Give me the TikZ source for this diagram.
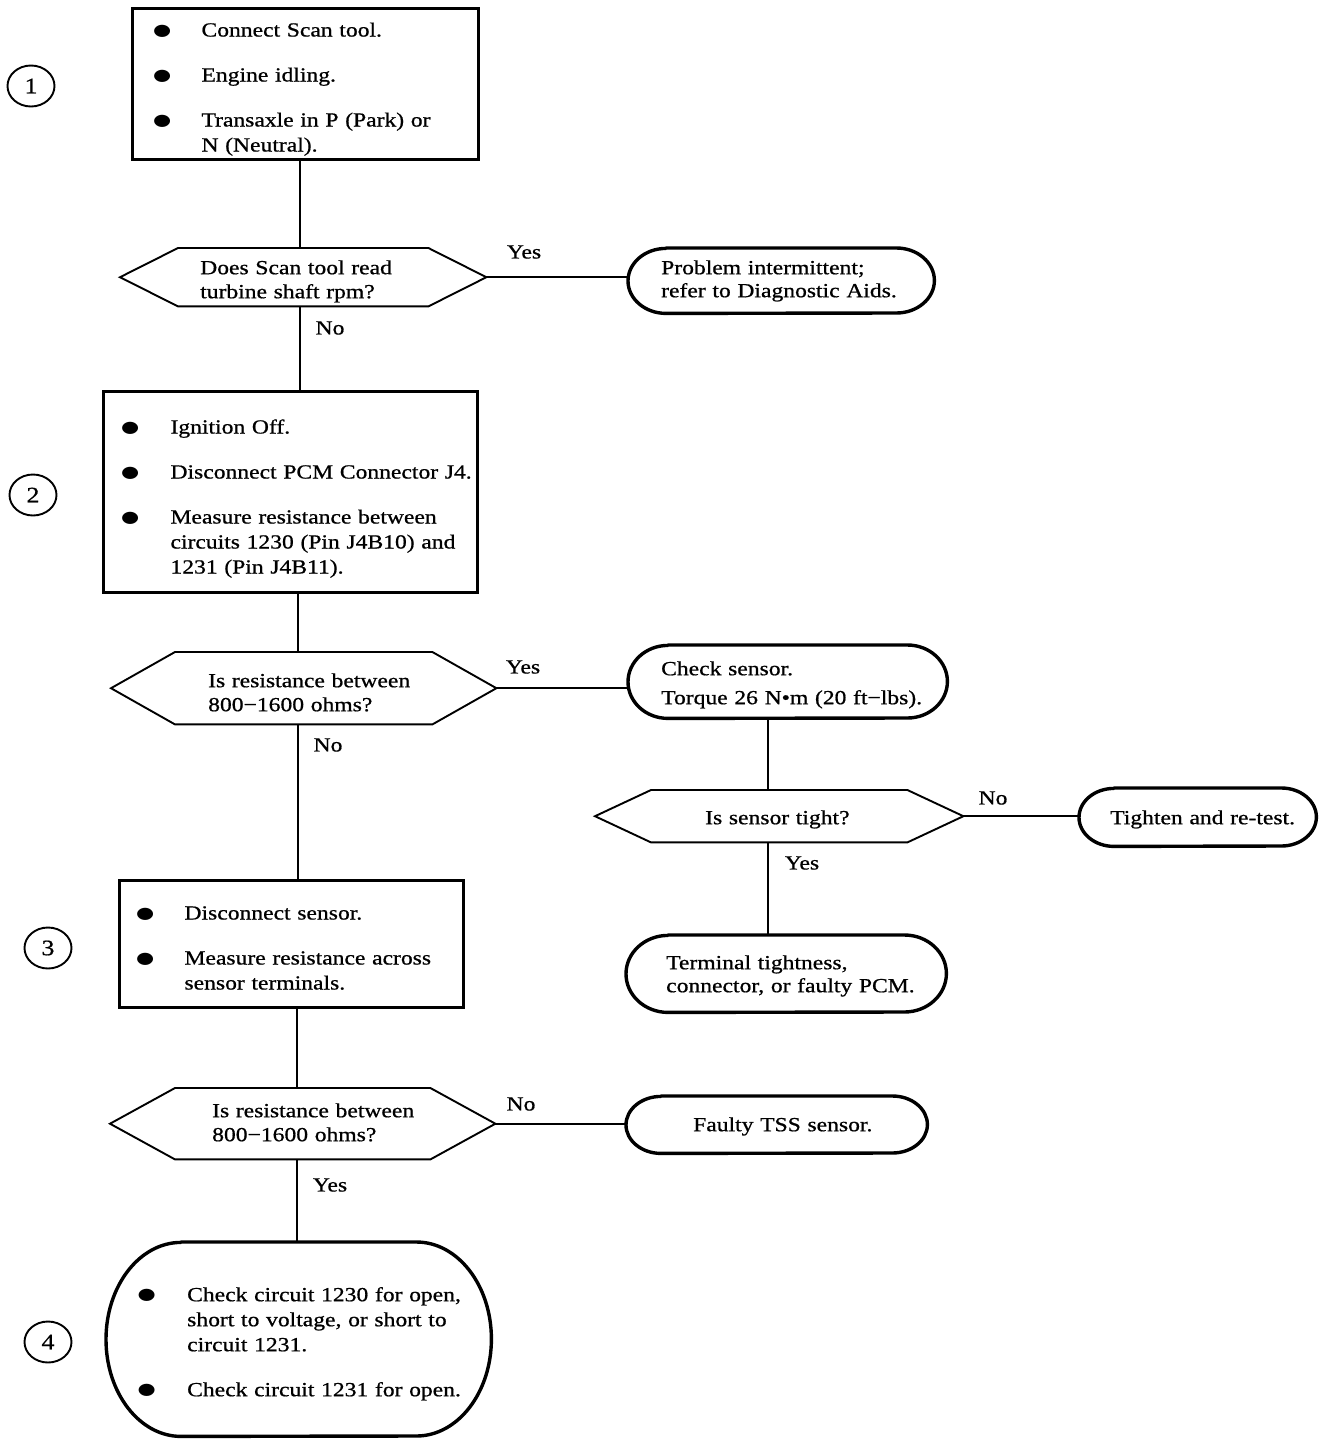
\documentclass[tikz,border=0pt]{standalone}
\usepackage{fontspec}
\setmainfont[FakeStretch=1.18,FakeBold=0.8]{Liberation Serif}
\newfontfamily\symfnt[FakeStretch=1.3]{DejaVu Sans}
\usetikzlibrary{shapes.geometric}
\newcommand{\bul}{\raisebox{1.5pt}{\symfnt\fontsize{16}{25}\selectfont ●}}
\newcommand{\stadium}[3]{\draw[ovalline] ([xshift=#2pt]#1.north west) -- ([xshift=-#2pt]#1.north east) arc[start angle=90,end angle=-90,x radius=#2pt,y radius=#3pt] -- ([xshift=#2pt]#1.south west) arc[start angle=270,end angle=90,x radius=#2pt,y radius=#3pt] -- cycle;}
\newcommand{\hexa}[2]{\draw[hexline] (#1.west) -- ([xshift=#2pt]#1.north west) -- ([xshift=-#2pt]#1.north east) -- (#1.east) -- ([xshift=-#2pt]#1.south east) -- ([xshift=#2pt]#1.south west) -- cycle;}
\tikzset{
  every node/.style={inner sep=0pt},
  tbox/.style={anchor=north west, align=left, inner ysep=0pt},
  boxline/.style={draw, line width=3pt},
  ovalline/.style={line width=3.4pt, line join=round},
  hexline/.style={line width=1.9pt, line join=miter},
  conn/.style={line width=1.9pt},
  num/.style={ellipse, draw, line width=1.9pt, minimum width=47pt, minimum height=41pt, inner sep=0pt, font=\fontsize{22}{25}\selectfont},
}
\begin{document}
\begin{tikzpicture}[x=1pt,y=-1pt,font=\fontsize{20}{25}\selectfont]
\useasboundingbox (0,0) rectangle (1328,1444);

% step numbers
\node[num] (c1) at (31,86) {1};
\node[num] (c2) at (33,495) {2};
\node[num] (c3) at (48,948) {3};
\node[num] (c4) at (48,1342) {4};

% box 1
\node[tbox, boxline, inner xsep=20.5pt, text width=305pt, text height=28pt, text depth=123pt] (b1) at (131,7)
 {\begin{tabular}[t]{@{}p{48.5pt}@{}l@{}}
 \bul & Connect Scan tool.\\[20pt]
 \bul & Engine idling.\\[20pt]
 \bul & Transaxle in P (Park) or\\
      & N (Neutral).
 \end{tabular}};

% question 1
\node[tbox, font=\fontsize{20}{24}\selectfont, inner xsep=80pt, text width=206pt, text height=26pt, text depth=32pt] (h1) at (120,248)
 {\begin{tabular}[t]{@{}l@{}}Does Scan tool read\\ turbine shaft rpm?\end{tabular}};
\hexa{h1}{58}

\node[tbox, font=\fontsize{20}{23}\selectfont, inner xsep=33pt, text width=240pt, text height=26pt, text depth=39pt] (o1) at (628,248)
 {\begin{tabular}[t]{@{}l@{}}Problem intermittent;\\ refer to Diagnostic Aids.\end{tabular}};
\stadium{o1}{38}{32.5}

% box 2
\node[tbox, boxline, inner xsep=17.5pt, text width=339pt, text height=42pt, text depth=159pt] (b2) at (102,390)
 {\begin{tabular}[t]{@{}p{49.5pt}@{}l@{}}
 \bul & Ignition Off.\\[20pt]
 \bul & Disconnect PCM Connector J4.\\[20pt]
 \bul & Measure resistance between\\
      & circuits 1230 (Pin J4B10) and\\
      & 1231 (Pin J4B11).
 \end{tabular}};

% question 2
\node[tbox, font=\fontsize{20}{24}\selectfont, inner xsep=97pt, text width=191pt, text height=35pt, text depth=37pt] (h2) at (111,652)
 {\begin{tabular}[t]{@{}l@{}}Is resistance between\\ 800−1600 ohms?\end{tabular}};
\hexa{h2}{64}

\node[tbox, inner xsep=33pt, text width=253pt, text height=30pt, text depth=43pt] (o2) at (628,645)
 {\begin{tabular}[t]{@{}l@{}}Check sensor.\\[4pt] Torque 26 N•m (20 ft−lbs).\end{tabular}};
\stadium{o2}{40}{36.5}

% question 3
\node[tbox, inner xsep=110pt, text width=148pt, text height=34pt, text depth=18pt] (h3) at (595,790)
 {\mbox{Is sensor tight?}};
\hexa{h3}{56}

\node[tbox, inner xsep=31pt, text width=175pt, text height=36pt, text depth=22pt] (o3) at (1079,788)
 {\mbox{Tighten and re-test.}};
\stadium{o3}{35}{29}

\node[tbox, font=\fontsize{20}{23}\selectfont, inner xsep=40pt, text width=240pt, text height=34pt, text depth=43pt] (o4) at (626,935)
 {\begin{tabular}[t]{@{}l@{}}Terminal tightness,\\ connector, or faulty PCM.\end{tabular}};
\stadium{o4}{42}{38.5}

% box 3
\node[tbox, boxline, inner xsep=16.5pt, text width=311pt, text height=39pt, text depth=88pt] (b3) at (118,879)
 {\begin{tabular}[t]{@{}p{48.5pt}@{}l@{}}
 \bul & Disconnect sensor.\\[20pt]
 \bul & Measure resistance across\\
      & sensor terminals.
 \end{tabular}};

% question 4
\node[tbox, font=\fontsize{20}{24}\selectfont, inner xsep=102pt, text width=181pt, text height=29pt, text depth=42pt] (h4) at (110,1088)
 {\begin{tabular}[t]{@{}l@{}}Is resistance between\\ 800−1600 ohms?\end{tabular}};
\hexa{h4}{65}

\node[tbox, inner xsep=67pt, text width=167pt, text height=35pt, text depth=22pt] (o5) at (626,1096)
 {\mbox{Faulty TSS sensor.}};
\stadium{o5}{35}{28.5}

% final
\node[tbox, inner xsep=31.5pt, text width=322pt, text height=59pt, text depth=135pt] (o6) at (106,1242)
 {\begin{tabular}[t]{@{}p{49.5pt}@{}l@{}}
 \bul & Check circuit 1230 for open,\\
      & short to voltage, or short to\\
      & circuit 1231.\\[20pt]
 \bul & Check circuit 1231 for open.
 \end{tabular}};
\stadium{o6}{75}{97}

% labels
\node (yes1) at (524,252) {Yes};
\node (no1) at (330,328) {No};
\node (yes2) at (523,667) {Yes};
\node (no2) at (328,745) {No};
\node (no3) at (993,798) {No};
\node (yes3) at (802,863) {Yes};
\node (no4) at (521,1104) {No};
\node (yes4) at (330,1185) {Yes};

% connectors
\draw[conn] ([xshift=-3pt]h1.north) -- ([xshift=-3pt]h1.north |- b1.south);
\draw[conn] ([xshift=-3pt]h1.south) -- ([xshift=-3pt]h1.south |- b2.north);
\draw[conn] (h1.east) -- (h1.east -| o1.west);
\draw[conn] ([xshift=-5.5pt]h2.north) -- ([xshift=-5.5pt]h2.north |- b2.south);
\draw[conn] ([xshift=-5.5pt]h2.south) -- ([xshift=-5.5pt]h2.south |- b3.north);
\draw[conn] (h2.east) -- (h2.east -| o2.west);
\draw[conn] ([xshift=-11pt]h3.north) -- ([xshift=-11pt]h3.north |- o2.south);
\draw[conn] ([xshift=-11pt]h3.south) -- ([xshift=-11pt]h3.south |- o4.north);
\draw[conn] (h3.east) -- (h3.east -| o3.west);
\draw[conn] ([xshift=-5.5pt]h4.north) -- ([xshift=-5.5pt]h4.north |- b3.south);
\draw[conn] ([xshift=-5.5pt]h4.south) -- ([xshift=-5.5pt]h4.south |- o6.north);
\draw[conn] (h4.east) -- (h4.east -| o5.west);
\end{tikzpicture}
\end{document}
